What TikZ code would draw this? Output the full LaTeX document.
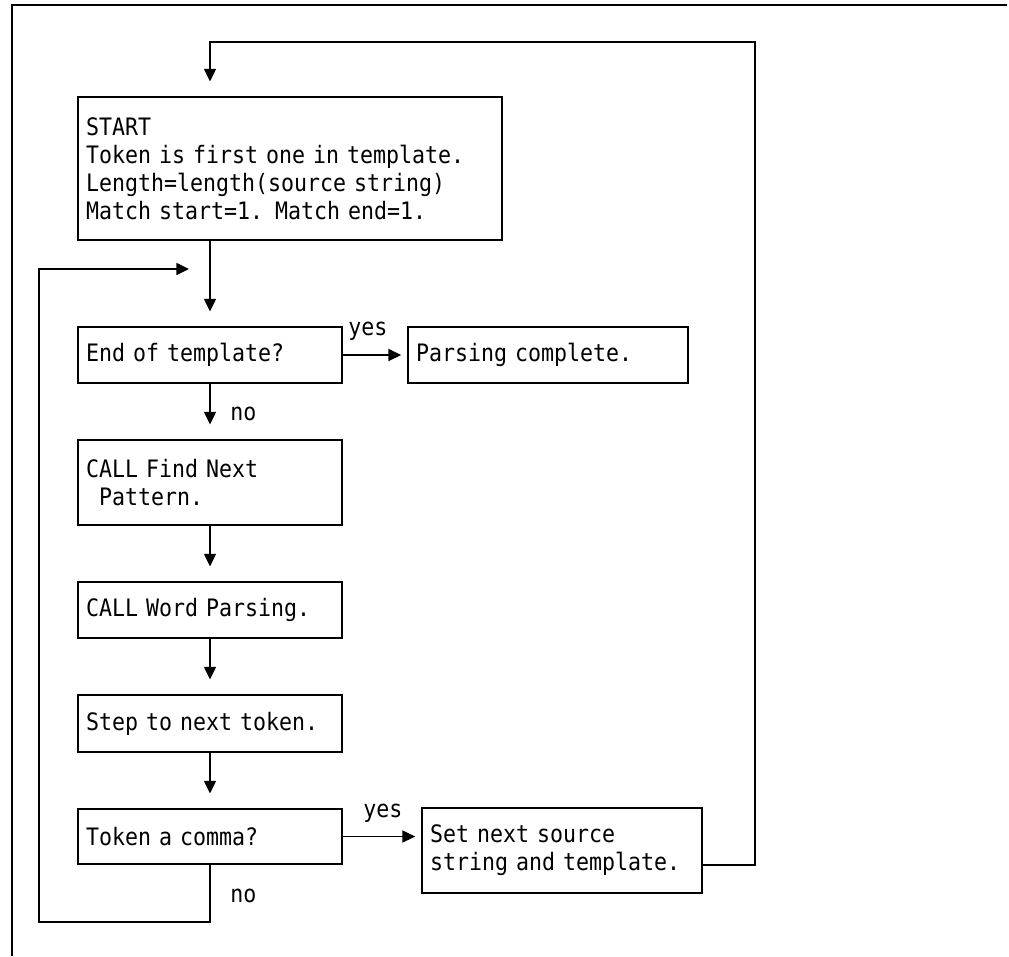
\documentclass[tikz,border=0pt]{standalone}
\usepackage{fontspec}
\newfontfamily\diagfont[FakeStretch=0.9]{DejaVu Sans Mono}
\usetikzlibrary{arrows.meta,calc}
\begin{document}
\begin{tikzpicture}[x=0.75pt,y=-0.75pt,
  txt/.style={font=\diagfont\fontsize{18}{21}\selectfont},
  box/.style={txt, draw, line width=1.3pt, inner xsep=6pt, inner ysep=0pt, align=left, anchor=center},
  narrow/.style={box, text width=186pt},
  lbl/.style={txt, inner sep=0pt, anchor=base west},
  conn/.style={line width=1.1pt},
  arr/.style={conn, -{Triangle[length=9.5pt,width=9pt]}, shorten >=11pt},
  harr/.style={conn, -{Triangle[length=9.5pt,width=9pt]}, shorten >=4.5pt},
  larr/.style={conn, -{Triangle[length=9.5pt,width=9pt]}},
  frame/.style={line width=1pt}]
\useasboundingbox (0,0) rectangle (1009,956);

% frame (top and left only)
\draw[frame] (1007,5) -- (12,5) -- (12,956);

% boxes
\node[box, text width=306pt, minimum height=107.25pt] (start) at (290,168.5)
  {START\\Token is first one in template.\\Length=length(source string)\\Match start=1. Match end=1.};
\node[narrow, minimum height=42pt] (endt) at (210,355) {End of template?};
\node[box, text width=198pt, minimum height=42pt] (parse) at (548,355) {Parsing complete.};
\node[narrow, minimum height=63.75pt] (findnext) at (210,482.5) {CALL Find Next\\\hphantom{C}Pattern.};
\node[narrow, minimum height=42pt] (word) at (210,610) {CALL Word Parsing.};
\node[narrow, minimum height=42.75pt] (step) at (210,723.5) {Step to next token.};
\node[narrow, minimum height=41.25pt] (comma) at (210,836.5) {Token a comma?};
\node[box, text width=198pt, minimum height=63.75pt] (setnext) at (562,850.5) {Set next source\\string and template.};

% labels
\node[lbl] (yes1) at (348,335) {yes};
\node[lbl] (no1) at (230,420) {no};
\node[lbl] (yes2) at (363,817) {yes};
\node[lbl] (no2) at (230,902) {no};

% helper coordinates
\coordinate (se) at ($(setnext.east)+(0,14.5)$);
\coordinate (rt) at (755,42);
\coordinate (lb) at (39,922);
\coordinate (lp) at (189,269);

% connectors
\draw[arr] (se) -| (rt) -| (start.north -| endt.north);
\draw[arr] (start.south -| endt.north) -- (endt.north);
\draw[harr] (endt.east) -- (parse.west);
\draw[arr] (endt.south) -- (findnext.north);
\draw[arr] (findnext.south) -- (word.north);
\draw[arr] (word.south) -- (step.north);
\draw[arr] (step.south) -- (comma.north);
\draw[harr] (comma.east) -- (comma.east -| setnext.west);
\draw[larr] (comma.south) |- (lb) |- (lp);
\end{tikzpicture}
\end{document}
